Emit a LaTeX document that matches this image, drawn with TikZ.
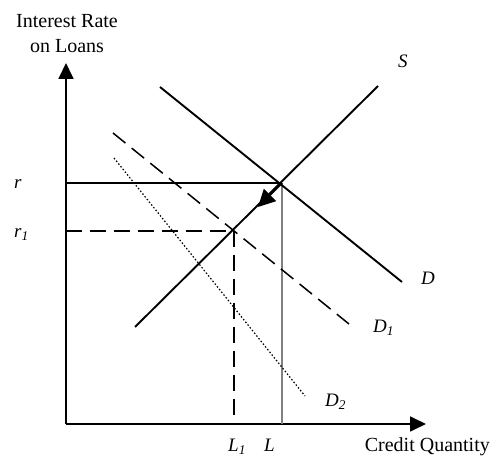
\documentclass[tikz,border=0pt]{standalone}
\usepackage{fontspec}
\setmainfont{Liberation Serif}
\usetikzlibrary{arrows.meta}
\begin{document}
\begin{tikzpicture}[x=1pt,y=-1pt,
  lbl/.style={font=\fontsize{20}{22}\selectfont, inner sep=0pt},
  ilbl/.style={font=\fontsize{19}{21}\selectfont\itshape, inner sep=0pt, anchor=base west},
  axis/.style={line width=1.8pt, -{Triangle[length=16pt,width=15pt]}},
  curve/.style={line width=1.9pt},
  dcurve/.style={line width=1.5pt, dash pattern=on 16pt off 8pt},
  dotcurve/.style={line width=1.2pt, dash pattern=on 1.5pt off 2pt},
  guide/.style={line width=1.3pt, gray}]
\useasboundingbox (0,0) rectangle (491,457);
% points
\coordinate (O) at (66,424);
\coordinate (Ytop) at (66,63);
\coordinate (Xend) at (426,424);
\coordinate (S1) at (135,327);
\coordinate (S2) at (378,86);
\coordinate (Da) at (160,87);
\coordinate (Db) at (402,282);
\coordinate (D1a) at (113,133);
\coordinate (D1b) at (349,324);
\coordinate (D2a) at (114,158);
\coordinate (D2b) at (305,396);
\coordinate (E) at (282,183);
\coordinate (E1) at (234,231);
\coordinate (rY) at (66,183);
\coordinate (r1Y) at (66,231);
\coordinate (LX) at (282,424);
\coordinate (L1X) at (234,424);
\coordinate (Atip) at (258,207);
% axes
\draw[axis] (O) -- (Ytop);
\draw[axis] (O) -- (Xend);
% guides
\draw[curve, line width=1.6pt] (rY) -- (E);
\draw[guide] (E) -- (LX);
\draw[dcurve] (r1Y) -- (E1);
\draw[dcurve] (E1) -- (L1X);
% curves
\draw[curve] (S1) -- (S2);
\draw[curve] (Da) -- (Db);
\draw[dcurve] (D1a) -- (D1b);
\draw[dotcurve] (D2a) -- (D2b);
% shift arrow
\draw[line width=1.8pt, -{Triangle[length=17pt,width=17pt]}] (E) -- (Atip);
% labels
\node[lbl, anchor=base] (yl1) at (67,28) {Interest Rate};
\node[lbl, anchor=base] (yl2) at (67,53) {on Loans};
\node[lbl, anchor=base east] (xl) at (490,452) {Credit Quantity};
\node[ilbl] (lr) at (14,189) {r};
\node[ilbl] (lr1) at (14,238) {r\textsubscript{1}};
\node[ilbl] (lL1) at (228,452) {L\textsubscript{1}};
\node[ilbl] (lL) at (264,452) {L};
\node[ilbl] (lS) at (398,68) {S};
\node[ilbl] (lD) at (421,285) {D};
\node[ilbl] (lD1) at (373,333) {D\textsubscript{1}};
\node[ilbl] (lD2) at (325,407) {D\textsubscript{2}};
\end{tikzpicture}
\end{document}
